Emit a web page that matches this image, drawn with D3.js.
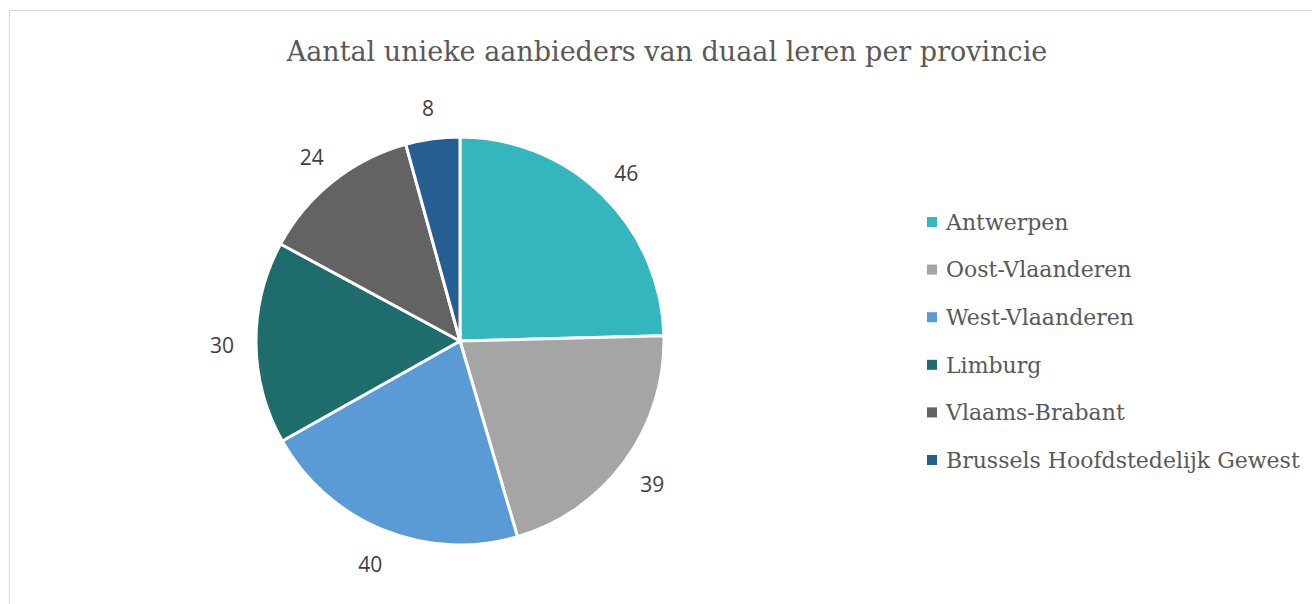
<!DOCTYPE html>
<html>
<head>
<meta charset="utf-8">
<script src="https://cdn.jsdelivr.net/npm/d3@7"></script>
<style>
  body { margin: 0; background: #fff; }
</style>
</head>
<body>
<svg id="chart" width="1312" height="604"></svg>
<script>
// data
const provinces = ['Antwerpen', 'Oost-Vlaanderen', 'West-Vlaanderen', 'Limburg', 'Vlaams-Brabant', 'Brussels Hoofdstedelijk Gewest'];
const counts = [46, 39, 40, 30, 24, 8];
const colors = ['#33b6bd', '#a5a5a5', '#5b9bd5', '#1e6c6c', '#636363', '#255e91'];

const svg = d3.select('#chart');

// chart frame
svg.append('rect')
  .attr('x', 9.5).attr('y', 10.5)
  .attr('width', 1400).attr('height', 700)
  .attr('fill', 'none').attr('stroke', '#d9d9d9').attr('stroke-width', 1);

svg.append('text')
  .attr('x', 667).attr('y', 61)
  .attr('text-anchor', 'middle')
  .style('font-family', 'DejaVu Serif')
  .style('font-size', '27px')
  .style('fill', '#595959')
  .text('Aantal unieke aanbieders van duaal leren per provincie');

const data = provinces.map((p, i) => ({ name: p, value: counts[i], color: colors[i] }));

const cx = 460, cy = 341, r = 204;
const pie = d3.pie().value(d => d.value).sort(null);
const arc = d3.arc().innerRadius(0).outerRadius(r);
const labelArc = d3.arc().innerRadius(238).outerRadius(238);

const g = svg.append('g').attr('transform', `translate(${cx},${cy})`);
const arcs = pie(data);

g.selectAll('path')
  .data(arcs)
  .enter().append('path')
  .attr('d', arc)
  .attr('fill', d => d.data.color)
  .attr('stroke', '#fff')
  .attr('stroke-width', 3)
  .attr('stroke-linejoin', 'round');

g.selectAll('text.lbl')
  .data(arcs)
  .enter().append('text')
  .attr('class', 'lbl')
  .attr('transform', d => `translate(${labelArc.centroid(d)})`)
  .attr('text-anchor', 'middle')
  .attr('dy', '0.5em')
  .style('font-family', 'Open Sans')
  .style('font-size', '21px')
  .style('fill', '#404040')
  .text(d => d.data.value);

// legend
const legend = svg.append('g').attr('transform', 'translate(927,222)');
const rows = legend.selectAll('g')
  .data(data)
  .enter().append('g')
  .attr('transform', (d, i) => `translate(0,${i * 47.6})`);

rows.append('rect')
  .attr('x', 0).attr('y', -5)
  .attr('width', 10).attr('height', 10)
  .attr('fill', d => d.color);

rows.append('text')
  .attr('x', 19).attr('y', 0)
  .attr('dy', '0.35em')
  .style('font-family', 'DejaVu Serif')
  .style('font-size', '22px')
  .style('fill', '#595959')
  .text(d => d.name);
</script>
</body>
</html>
